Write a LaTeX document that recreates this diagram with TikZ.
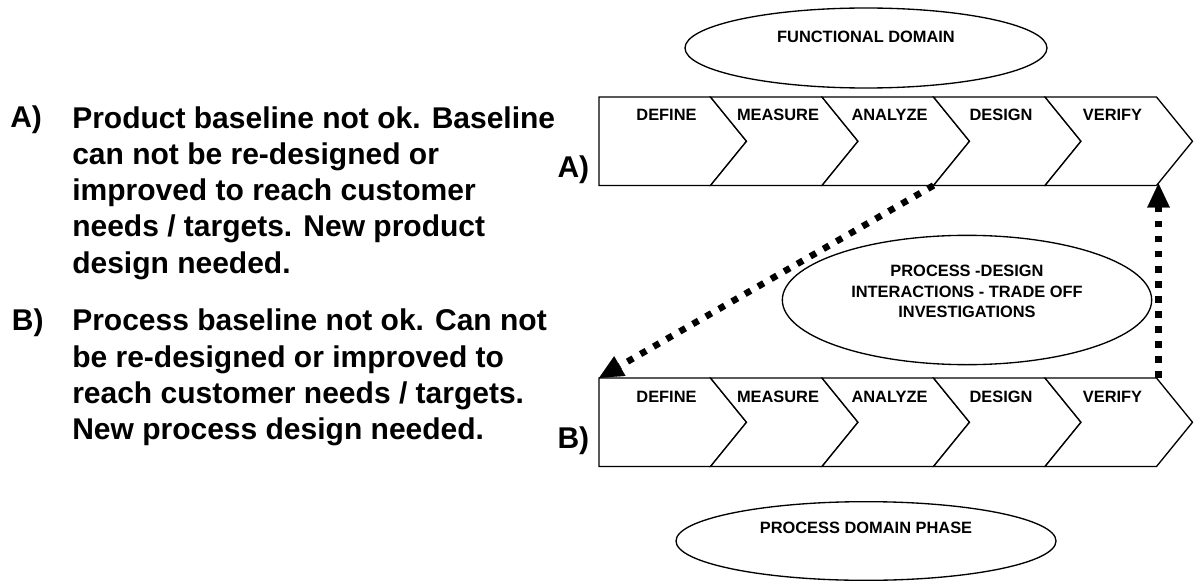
\documentclass[tikz,border=0pt]{standalone}
\usepackage{fontspec}
\setmainfont{Liberation Sans}
\usetikzlibrary{arrows.meta,shapes.geometric}
\begin{document}
\begin{tikzpicture}[x=0.75pt,y=-0.75pt,
  chev/.style={draw=black, line width=1pt, fill=white, line join=miter},
  lab/.style={font=\fontsize{12.3}{15.4}\selectfont\bfseries, inner sep=0pt},
  big/.style={font=\fontsize{22.5}{27.2}\selectfont\bfseries, inner sep=0pt},
  oval/.style={draw=black, ellipse, line width=1pt, inner sep=0pt},
  flow/.style={line width=4.9pt, dash pattern=on 4.9pt off 6.4pt,
    -{Triangle[length=18pt,width=17pt,line width=0.1pt]}}]
  \useasboundingbox (0,0) rectangle (1195,581);

  % domain ovals
  \node[oval, minimum width=271.5pt, minimum height=60pt] (func) at (866,48) {};
  \node[lab, anchor=base] (functxt) at (866,43) {FUNCTIONAL DOMAIN};
  \node[oval, minimum width=285pt, minimum height=59pt] (procdom) at (866,541) {};
  \node[lab, anchor=base] (procdomtxt) at (866,533) {PROCESS DOMAIN PHASE};
  \node[oval, minimum width=277pt, minimum height=97pt] (inter) at (967,300) {};
  \node[lab, align=center] (intertxt) at (967,291.7)
    {PROCESS -DESIGN\\INTERACTIONS - TRADE OFF\\INVESTIGATIONS};

  % two rows of chevrons (top = A, bottom = B)
  \foreach \row/\top in {a/97, b/378} {
    \pgfmathsetmacro{\bot}{\top+88.5}
    \pgfmathsetmacro{\mid}{\top+44.25}
    \foreach \i/\x/\word in {1/599/DEFINE, 2/710.5/MEASURE, 3/822/ANALYZE,
                             4/933.5/DESIGN, 5/1045/VERIFY} {
      \pgfmathsetmacro{\xr}{\x+111.5}
      \pgfmathsetmacro{\xt}{\x+147.5}
      \pgfmathsetmacro{\xn}{\x+36}
      \ifnum\i=1
        \draw[chev] (\x,\top) -- (\xr,\top) -- (\xt,\mid) -- (\xr,\bot)
          -- (\x,\bot) -- cycle;
      \else
        \draw[chev] (\x,\top) -- (\xr,\top) -- (\xt,\mid) -- (\xr,\bot)
          -- (\x,\bot) -- (\xn,\mid) -- cycle;
      \fi
      \node[lab, anchor=base] (\row\i) at (\x+67.5,\top+24) {\word};
      \coordinate (\row\i tl) at (\x,\top);
      \coordinate (\row\i bl) at (\x,\bot);
      \coordinate (\row\i tr) at (\xr,\top);
      \coordinate (\row\i br) at (\xr,\bot);
    }
  }

  % row labels
  \node[big, anchor=base east] (rowA) at (589.5,178) {A)};
  \node[big, anchor=base east] (rowB) at (589.5,448) {B)};

  % explanatory text
  \node[big, anchor=base west] (itemA) at (10,128) {A)};
  \node[big, anchor=north west, align=left] (textA) at (72,106)
    {Product baseline not ok. Baseline\\can not be re-designed or\\improved to reach customer\\needs / targets. New product\\design needed.};
  \node[big, anchor=base west] (itemB) at (11.7,330.7) {B)};
  \node[big, anchor=north west, align=left] (textB) at (72,308.8)
    {Process baseline not ok. Can not\\be re-designed or improved to\\reach customer needs / targets.\\New process design needed.};

  % hand-over arrows between the two rows
  \draw[flow] (a3br) -- (b1tl);
  \draw[flow] ([xshift=1.5]b5tr) -- ([xshift=1.5,yshift=1.5]a5br);
\end{tikzpicture}
\end{document}
